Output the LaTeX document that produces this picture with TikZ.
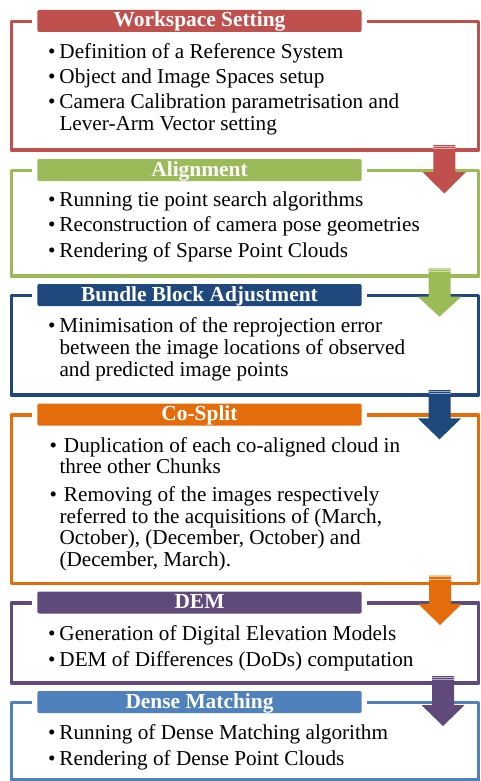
\documentclass[tikz,border=0pt]{standalone}
\usepackage{fontspec}
\setmainfont{Liberation Serif}
\definecolor{stRed}{HTML}{C0504D}
\definecolor{stGreen}{HTML}{9BBB59}
\definecolor{stNavy}{HTML}{1F497D}
\definecolor{stOrange}{HTML}{E46C0A}
\definecolor{stPurple}{HTML}{604A7B}
\definecolor{stBlue}{HTML}{4F81BD}

% one stage: open frame interrupted by the title bar
% #1 name, #2 top line, #3 bottom line, #4 colour, #5 title
\newcommand{\stagebox}[5]{%
  \draw[boxline, draw=#4] (32.3,#2) -| (11.3,#3) -| (478.7,#2) -- (366.7,#2);
  \node[headbar, fill=#4] (#1) at (199.5,#2-0.5) {#5};
}
% block arrow hanging from a named start point
% #1 start, #2 shaft length, #3 total length, #4 colour
\newcommand{\blockarrow}[4]{%
  \fill[#4, shift={(#1)}] (-11,0) -- (11,0) -- (11,#2) -- (21.7,#2) -- (0,#3)
     -- (-21.7,#2) -- (-11,#2) -- cycle;
  \draw[white, opacity=.55, line width=0.9pt, shift={(#1)}]
     (-11,1.1) -- (11,1.1) (-11,3.4) -- (11,3.4);
}

\begin{document}
\begin{tikzpicture}[x=1pt, y=-1pt,
  boxline/.style={line width=3.5pt, line join=round},
  headbar/.style={rectangle, rounded corners=2pt, inner sep=0pt,
    minimum width=324.4pt, minimum height=22pt,
    text height=15pt, text depth=3pt, text=white,
    font=\bfseries\fontsize{21.4}{22}\selectfont},
  bodytext/.style={anchor=base west, inner sep=0pt, align=left,
    font=\fontsize{21.2}{21.8}\selectfont},
  ]
\useasboundingbox (0,0) rectangle (480,781);
\fill[white] (0,0) rectangle (480,781);

% frames and title bars
\stagebox{ws}{21.5}{150}{stRed}{Workspace Setting}
\stagebox{al}{170.5}{276}{stGreen}{Alignment}
\stagebox{bba}{295.5}{395}{stNavy}{Bundle Block Adjustment}
\stagebox{cs}{415}{583.5}{stOrange}{Co-Split}
\stagebox{dem}{603}{683}{stPurple}{DEM}
\stagebox{dm}{702.5}{779.8}{stBlue}{Dense Matching}

% bullet lists (multi-line items are placed by their last baseline)
\newcommand{\bl}{\makebox[11.3pt][l]{\textbullet}}
\newcommand{\ind}{\hspace*{11.3pt}}
\newcommand{\blsp}{\hspace*{1.5pt}\makebox[9.8pt][l]{\textbullet}\hspace{4.5pt}}
\node[bodytext] (ws1) at (48,58.3) {\bl Definition of a Reference System};
\node[bodytext] (ws2) at (48,83.3) {\bl Object and Image Spaces setup};
\node[bodytext] (ws3) at (48,130.8) {\bl Camera Calibration parametrisation and\\ \ind Lever-Arm Vector setting};

\node[bodytext] (al1) at (48,206.7) {\bl Running tie point search algorithms};
\node[bodytext] (al2) at (48,231.7) {\bl Reconstruction of camera pose geometries};
\node[bodytext] (al3) at (48,257.3) {\bl Rendering of Sparse Point Clouds};

\node[bodytext] (bba1) at (48,376) {\bl Minimisation of the reprojection error\\ \ind between the image locations of observed\\ \ind and predicted image points};

\node[bodytext] (cs1) at (48,473.8) {\blsp Duplication of each co-aligned cloud in\\ \ind three other Chunks};
\node[bodytext] (cs2) at (48,566.7) {\blsp Removing of the images respectively\\ \ind referred to the acquisitions of (March,\\ \ind October), (December, October) and\\ \ind (December, March).};

\node[bodytext] (dem1) at (48,640.7) {\bl Generation of Digital Elevation Models};
\node[bodytext] (dem2) at (48,666) {\bl DEM of Differences (DoDs) computation};

\node[bodytext] (dm1) at (48,739) {\bl Running of Dense Matching algorithm};
\node[bodytext] (dm2) at (48,765) {\bl Rendering of Dense Point Clouds};

% arrows between consecutive stages
\coordinate (a1) at (444.3,145);
\coordinate (a2) at (439.5,268.3);
\coordinate (a3) at (439.5,390);
\coordinate (a4) at (440,575.7);
\coordinate (a5) at (443,676);
\blockarrow{a1}{27}{48.5}{stRed}
\blockarrow{a2}{28.4}{48.4}{stGreen}
\blockarrow{a3}{28.3}{49.3}{stNavy}
\blockarrow{a4}{28.3}{49.3}{stOrange}
\blockarrow{a5}{29}{50}{stPurple}
\end{tikzpicture}
\end{document}
